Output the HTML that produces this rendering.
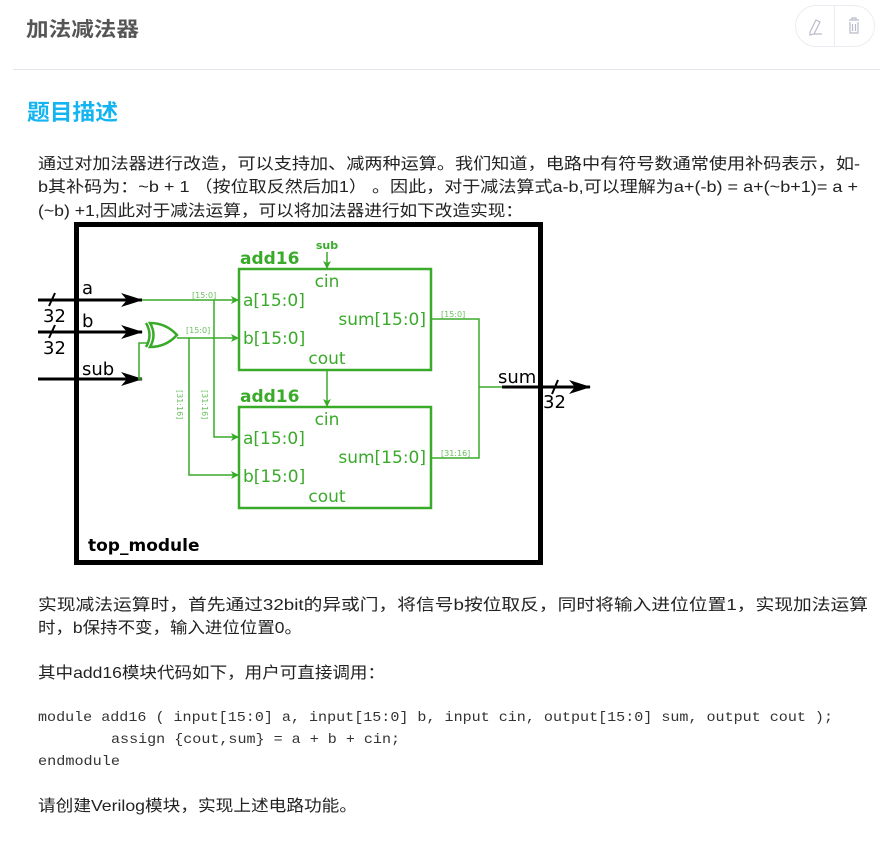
<!DOCTYPE html>
<html><head><meta charset="utf-8"><style>
html,body{margin:0;padding:0;background:#fff;width:889px;height:849px;overflow:hidden}
svg{display:block}
.cn{font-family:"Liberation Sans","Noto Sans CJK SC",sans-serif}
.dg{font-family:"DejaVu Sans","Liberation Sans",sans-serif}
.mono{font-family:"Liberation Mono","DejaVu Sans Mono",monospace}
</style></head><body>
<svg width="889" height="849" viewBox="0 0 889 849" xmlns="http://www.w3.org/2000/svg">
<defs>
<marker id="abig" markerWidth="22" markerHeight="14" refX="21" refY="7" orient="auto" markerUnits="userSpaceOnUse"><path d="M0,0 L22,7 L0,14 L6,7 Z" fill="#000"/></marker>
<marker id="ag" markerWidth="8" markerHeight="8" refX="8" refY="4" orient="auto" markerUnits="userSpaceOnUse"><path d="M0,0 L8,4 L0,8 L2,4 Z" fill="#3aaa2a"/></marker>
</defs>
<text x="26" y="36" class="cn" font-size="20" font-weight="bold" fill="#555" textLength="113" lengthAdjust="spacingAndGlyphs">加法减法器</text>
<rect x="795.5" y="5.5" width="79" height="41" rx="20.5" fill="#fff" stroke="#ececf2"/>
<line x1="834.5" y1="6" x2="834.5" y2="46" stroke="#ececf2"/>
<path d="M810,32 L816,20 L820,22 L814,34 L810,35 Z M814,34 L822,34" fill="none" stroke="#b8bcc8" stroke-width="1.2"/>
<path d="M849,20 L859,20 M852,20 L852,18 L856,18 L856,20 M850,22 L850,33 L858,33 L858,22 M852.5,24 L852.5,31 M855.5,24 L855.5,31" fill="none" stroke="#b8bcc8" stroke-width="1.2"/>
<line x1="13" y1="69.5" x2="880" y2="69.5" stroke="#e4e4ea"/>
<text x="27" y="120" class="cn" font-size="22" font-weight="bold" fill="#14b4f0" textLength="91" lengthAdjust="spacingAndGlyphs">题目描述</text>
<g class="cn" font-size="16" fill="#222">
<text x="38" y="169" textLength="822" lengthAdjust="spacingAndGlyphs">通过对加法器进行改造，可以支持加、减两种运算。我们知道，电路中有符号数通常使用补码表示，如-</text>
<text x="38" y="192" textLength="820" lengthAdjust="spacingAndGlyphs">b其补码为：~b + 1 （按位取反然后加1） 。因此，对于减法算式a-b,可以理解为a+(-b) = a+(~b+1)= a +</text>
<text x="38" y="216" textLength="485" lengthAdjust="spacingAndGlyphs">(~b) +1,因此对于减法运算，可以将加法器进行如下改造实现：</text>
<text x="38" y="610" textLength="830" lengthAdjust="spacingAndGlyphs">实现减法运算时，首先通过32bit的异或门，将信号b按位取反，同时将输入进位位置1，实现加法运算</text>
<text x="38" y="633" textLength="264" lengthAdjust="spacingAndGlyphs">时，b保持不变，输入进位位置0。</text>
<text x="38" y="678" textLength="347" lengthAdjust="spacingAndGlyphs">其中add16模块代码如下，用户可直接调用：</text>
<text x="38" y="811" textLength="319" lengthAdjust="spacingAndGlyphs">请创建Verilog模块，实现上述电路功能。</text>
</g>
<g class="mono" font-size="14" fill="#333">
<text x="38" y="721" textLength="795" lengthAdjust="spacingAndGlyphs">module add16 ( input[15:0] a, input[15:0] b, input cin, output[15:0] sum, output cout );</text>
<text x="111" y="743" textLength="289" lengthAdjust="spacingAndGlyphs">assign {cout,sum} = a + b + cin;</text>
<text x="38" y="765" textLength="82" lengthAdjust="spacingAndGlyphs">endmodule</text>
</g>
<rect x="76.5" y="224.5" width="464" height="338" fill="#fff" stroke="#000" stroke-width="5"/>
<text x="88" y="551" class="dg" font-size="17" font-weight="bold" fill="#000">top_module</text>
<g stroke="#000" stroke-width="3" fill="none">
<line x1="38" y1="300" x2="142" y2="300" marker-end="url(#abig)"/>
<line x1="38" y1="332" x2="142" y2="332" marker-end="url(#abig)"/>
<line x1="38" y1="379" x2="142" y2="379" marker-end="url(#abig)"/>
<line x1="502" y1="387" x2="590" y2="387" marker-end="url(#abig)"/>
</g>
<g stroke="#000" stroke-width="2">
<line x1="49" y1="306" x2="55" y2="293"/>
<line x1="49" y1="338" x2="55" y2="325"/>
<line x1="552" y1="394" x2="558" y2="380"/>
</g>
<g class="dg" font-size="18" fill="#000">
<text x="82" y="294">a</text>
<text x="82" y="327">b</text>
<text x="82" y="375">sub</text>
<text x="43" y="322">32</text>
<text x="43" y="354">32</text>
<text x="498" y="383">sum</text>
<text x="543" y="408">32</text>
</g>
<g stroke="#3aaa2a" stroke-width="1.5" fill="none">
<line x1="142" y1="300" x2="239" y2="300" marker-end="url(#ag)"/>
<line x1="177" y1="338" x2="239" y2="338" marker-end="url(#ag)"/>
<path d="M142,379 L139,379 L139,343 L148,343"/>
<polyline points="214,300 214,437 239,437" marker-end="url(#ag)"/>
<polyline points="189,338 189,475 239,475" marker-end="url(#ag)"/>
<line x1="327" y1="252" x2="327" y2="269" marker-end="url(#ag)"/>
<line x1="327" y1="370" x2="327" y2="407" marker-end="url(#ag)"/>
<polyline points="431,319 479,319 479,458 431,458"/>
<line x1="479" y1="387" x2="502" y2="387"/>
</g>
<g stroke="#3aaa2a" stroke-width="2.5" fill="none">
<path d="M146,323 Q153,335 146,347"/>
<path d="M150,323 Q166,323 177,335 Q166,347 150,347 Q157,335 150,323 Z"/>
</g>
<g stroke="#3aaa2a" stroke-width="2.5" fill="none">
<rect x="239" y="269" width="192" height="101"/>
<rect x="239" y="407" width="192" height="101"/>
</g>
<g class="dg" fill="#3aaa2a">
<text x="240" y="264" font-size="17" font-weight="bold">add16</text>
<text x="240" y="402" font-size="17" font-weight="bold">add16</text>
<text x="327" y="249" font-size="11" font-weight="bold" text-anchor="middle">sub</text>
<g font-size="17">
<text x="327" y="287" text-anchor="middle">cin</text>
<text x="243" y="306">a[15:0]</text>
<text x="243" y="344">b[15:0]</text>
<text x="426" y="325" text-anchor="end">sum[15:0]</text>
<text x="327" y="364" text-anchor="middle">cout</text>
<text x="327" y="425" text-anchor="middle">cin</text>
<text x="243" y="444">a[15:0]</text>
<text x="243" y="482">b[15:0]</text>
<text x="426" y="463" text-anchor="end">sum[15:0]</text>
<text x="327" y="502" text-anchor="middle">cout</text>
</g>
<g font-size="8" fill="#6cc060">
<text x="192" y="298">[15:0]</text>
<text x="186" y="333">[15:0]</text>
<text x="441" y="317">[15:0]</text>
<text x="441" y="456">[31:16]</text>
<text transform="translate(177,390) rotate(90)">[31:16]</text>
<text transform="translate(202,390) rotate(90)">[31:16]</text>
</g>
</g>
</svg>
</body></html>
